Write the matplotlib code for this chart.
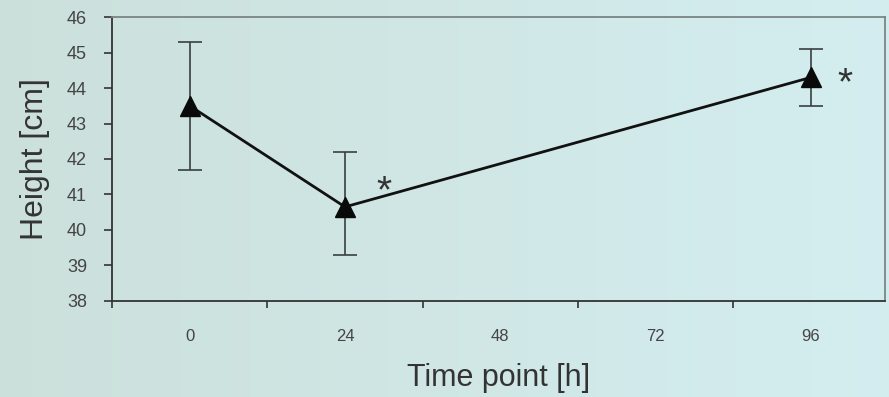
import numpy as np
import matplotlib
matplotlib.use("Agg")
import matplotlib.pyplot as plt

plt.rcParams["font.family"] = ["Liberation Sans", "DejaVu Sans"]

# categories on the time axis and the measured points
categories = ["0", "24", "48", "72", "96"]
measured_at = ["0", "24", "96"]
height_mean = [43.5, 40.65, 44.3]
err_upper = [45.3, 42.2, 45.1]
err_lower = [41.7, 39.3, 43.5]
significant = ["24", "96"]

xpos = [categories.index(c) for c in measured_at]
yerr = [np.subtract(height_mean, err_lower), np.subtract(err_upper, height_mean)]

fig = plt.figure(figsize=(8.89, 3.97), dpi=100)

# slide background: greenish grey on the left fading to pale cyan on the right
bg = fig.add_axes([0, 0, 1, 1], zorder=-10)
c0 = np.array([0.80, 0.88, 0.86])
c1 = np.array([0.83, 0.93, 0.94])
t = np.linspace(0, 1, 256)[None, :, None]
bg.imshow(c0 + (c1 - c0) * t, aspect="auto", extent=[0, 1, 0, 1])
bg.axis("off")

ax = fig.add_axes([0.126, 0.242, 0.87, 0.715])
ax.set_facecolor("none")

ax.errorbar(xpos, height_mean, yerr=yerr, fmt="none", ecolor="#3a3f3f",
            elinewidth=1.2, capsize=8.5, capthick=1.2, zorder=2)
ax.plot(xpos, height_mean, color="#111111", lw=2.0, marker="^", ms=15,
        mfc="#0a0a0a", mec="#0a0a0a", zorder=3)

# significance stars next to the 24 h and 96 h points
star_offset = {"24": (0.25, 0.4), "96": (0.22, -0.2)}
for c in significant:
    i = measured_at.index(c)
    dx, dy = star_offset[c]
    ax.text(xpos[i] + dx, height_mean[i] + dy, "*", fontsize=28,
            color="#333333", ha="center", va="center")

ax.set_xlim(-0.5, 4.48)
ax.set_ylim(38, 46)
ax.set_yticks(range(38, 47))
ax.set_xticks(np.arange(-0.5, 4.0, 1.0))
ax.set_xticklabels([])
ax.set_xticks(range(len(categories)), minor=True)
ax.set_xticklabels(categories, minor=True)
ax.tick_params(axis="x", which="minor", length=0, pad=20, labelsize=12,
               labelcolor="#444444")
ax.tick_params(axis="x", which="major", direction="out", length=5,
               color="#333333", width=1.2)
ax.tick_params(axis="y", direction="out", length=6, color="#333333", width=1.2,
               labelsize=13, labelcolor="#444444", pad=12)

for side in ("left", "bottom"):
    ax.spines[side].set_color("#333333")
    ax.spines[side].set_linewidth(1.3)
for side in ("top", "right"):
    ax.spines[side].set_color("#7a8585")
    ax.spines[side].set_linewidth(1.3)

ax.set_xlabel("Time point [h]", fontsize=22, color="#333333", labelpad=14)
ax.set_ylabel("Height [cm]", fontsize=23, color="#333333", labelpad=12)

fig.savefig("out.png", dpi=100)
